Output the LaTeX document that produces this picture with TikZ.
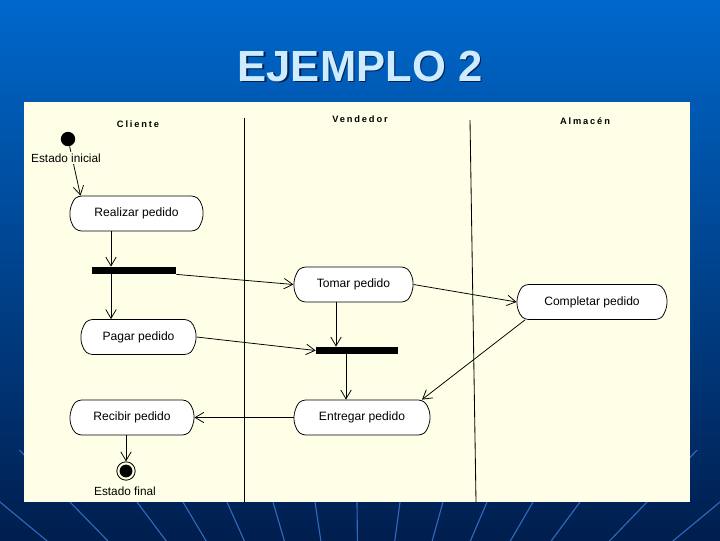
\documentclass[tikz,border=0pt]{standalone}
\usepackage{fontspec}
\setmainfont{Liberation Sans}
\usetikzlibrary{arrows.meta, shapes.misc, calc}
\definecolor{panel}{RGB}{255,255,232}
\definecolor{slidetop}{RGB}{0,104,204}
\definecolor{slidemid}{RGB}{0,80,172}
\definecolor{slidebot}{RGB}{0,30,78}
\definecolor{titleblue}{RGB}{206,236,255}
\definecolor{raycol}{RGB}{50,105,185}
\tikzset{
	activity/.style={draw, fill=white, rounded rectangle, rounded rectangle arc length=100, rounded corners=2.5pt, minimum height=0.875cm, inner sep=0pt, line width=0.55pt, font=\fontsize{8.6}{10}\selectfont},
	syncbar/.style={fill=black, minimum height=0.18cm, inner sep=0pt},
	lane/.style={font=\fontsize{6.6}{8}\selectfont\bfseries\addfontfeature{LetterSpace=20}},
	caption/.style={font=\fontsize{8.4}{10}\selectfont, inner sep=1pt},
	flow/.style={-{Straight Barb[length=2.2mm, width=2.6mm]}, line width=0.55pt},
}
\begin{document}
\begin{tikzpicture}[x=0.025cm, y=-0.025cm]
	\useasboundingbox (0,0) rectangle (720,540);
	% Slide background:
	\shade[top color=slidetop, middle color=slidemid, bottom color=slidebot] (0,0) rectangle (720,540);
	\begin{scope}
		\clip (0,450) rectangle (720,540);
		\foreach \px in {-60,0,70,137,183,227,273,315,357,400,443,487,533,580,647,720,790}
			\draw[raycol, line width=0.8pt] (360,800) -- ($(360,800)!2.4!(\px,502)$);
	\end{scope}
	\node[font=\fontsize{31}{36}\selectfont\bfseries, text=slidebot] (titleshadow) at (361.5,67.5) {EJEMPLO 2};
	\node[font=\fontsize{31}{36}\selectfont\bfseries, text=titleblue] (title) at (360,66) {EJEMPLO 2};
	\fill[panel] (24,102) rectangle (690,502);
	% Swimlanes:
	\draw[line width=0.6pt] (244,118) -- (244,502);
	\draw[line width=0.6pt] (470,120) -- (476,502);
	\node[lane] (cliente) at (138,124) {Cliente};
	\node[lane] (vendedor) at (360,119) {Vendedor};
	\node[lane] (almacen) at (585,121) {Almacén};
	% States, activities and bars:
	\node[circle, fill=black, minimum size=0.36cm, inner sep=0pt] (init) at (68,139) {};
	\node[activity, minimum width=3.33cm] (realizar) at (136.5,213.5) {Realizar pedido};
	\node[syncbar, minimum width=2.1cm] (barA) at (134,270.5) {};
	\node[activity, minimum width=2.88cm] (pagar) at (138.5,337) {Pagar pedido};
	\node[activity, minimum width=2.98cm] (tomar) at (353.5,284.5) {Tomar pedido};
	\node[activity, minimum width=3.75cm] (completar) at (592,302) {Completar pedido};
	\node[syncbar, minimum width=2.05cm] (barB) at (357,350.5) {};
	\node[activity, minimum width=3.4cm] (entregar) at (362,417.5) {Entregar pedido};
	\node[activity, minimum width=3.1cm] (recibir) at (132,417.5) {Recibir pedido};
	\node[circle, draw, line width=0.6pt, minimum size=0.46cm, inner sep=0pt, path picture={\fill (path picture bounding box.center) circle (0.16cm);}] (final) at (126,471) {};
	\coordinate (laneA) at (111,0);
	\coordinate (laneB) at (336,0);
	\coordinate (laneC) at (346,0);
	% Flows:
	\draw[flow] (init) -- ($(realizar.north)+(-56,0)$);
	\node[caption, fill=panel] (initlbl) at (66,158) {Estado inicial};
	\draw[flow] (realizar.south -| laneA) -- (barA.north -| laneA);
	\draw[flow] (barA.south -| laneA) -- (pagar.north -| laneA);
	\draw[flow] (barA.south east) -- (tomar.west);
	\draw[flow] (tomar.east) -- (completar.west);
	\draw[flow] (pagar.east) -- (barB.west);
	\draw[flow] (tomar.south -| laneB) -- (barB.north -| laneB);
	\draw[flow] (barB.south -| laneC) -- (entregar.north -| laneC);
	\draw[flow] (completar.south west) -- (entregar.north east);
	\draw[flow] (entregar.west) -- (recibir.east);
	\draw[flow] (recibir.south -| final) -- (final);
	\node[caption] (finallbl) at (125,491) {Estado final};
\end{tikzpicture}
\end{document}
